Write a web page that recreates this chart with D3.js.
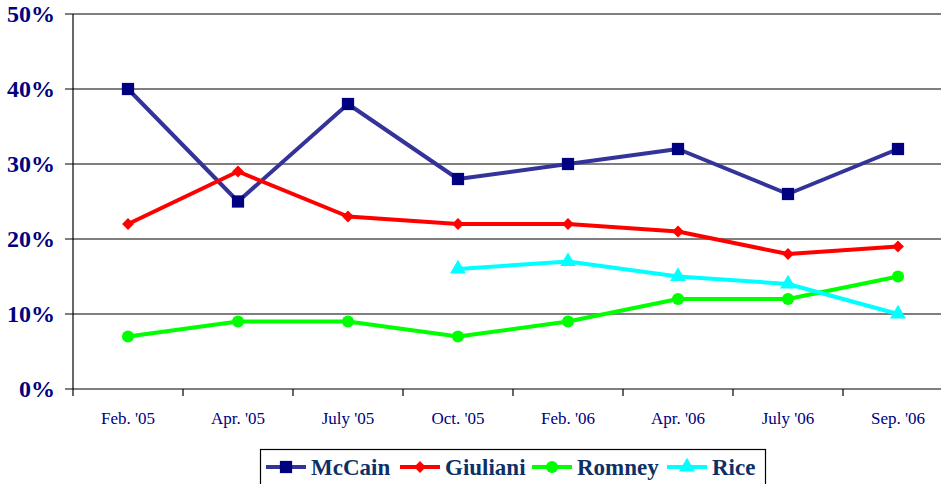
<!DOCTYPE html>
<html>
<head>
<meta charset="utf-8">
<script src="https://cdn.jsdelivr.net/npm/d3@7"></script>
</head>
<body style="margin:0; background:#fff">
<svg class="chart" width="941" height="484" style="display:block"></svg>
<script>
const months = ["Feb. '05", "Apr. '05", "July '05", "Oct. '05", "Feb. '06", "Apr. '06", "July '06", "Sep. '06"]
const yTicks = [0, 10, 20, 30, 40, 50]

const mccain = [40, 25, 38, 28, 30, 32, 26, 32]
const giuliani = [22, 29, 23, 22, 22, 21, 18, 19]
const romney = [7, 9, 9, 7, 9, 12, 12, 15]
const rice = [null, null, null, 16, 17, 15, 14, 10]

const series = [
  { name: "McCain", values: mccain, line: "#333399", mark: "#000080", shape: d3.symbolSquare, size: 150, rot: 0 },
  { name: "Giuliani", values: giuliani, line: "#ff0000", mark: "#ff0000", shape: d3.symbolSquare, size: 70, rot: 45 },
  { name: "Romney", values: romney, line: "#00ff00", mark: "#00ff00", shape: d3.symbolCircle, size: 115, rot: 0 },
  { name: "Rice", values: rice, line: "#00ffff", mark: "#00ffff", shape: d3.symbolTriangle, size: 110, rot: 0 }
]

const FONT = "Liberation Serif"

const svg = d3.select("svg.chart")

// plot area: left 73, band width 110
const x = d3.scaleBand().domain(months).range([73, 953])
const y = d3.scaleLinear().domain([0, 50]).range([389, 14])

// gridlines
svg.append("g")
  .selectAll("line")
  .data(yTicks)
  .enter()
  .append("line")
  .attr("x1", 65).attr("x2", 941)
  .attr("y1", d => y(d)).attr("y2", d => y(d))
  .attr("stroke", "#000").attr("stroke-width", 1.2)

// y axis line
svg.append("line")
  .attr("x1", 73).attr("x2", 73)
  .attr("y1", y(50)).attr("y2", y(0))
  .attr("stroke", "#000").attr("stroke-width", 1.2)

// y labels
svg.append("g")
  .selectAll("text")
  .data(yTicks)
  .enter()
  .append("text")
  .attr("x", 55)
  .attr("y", d => y(d) + 8)
  .attr("text-anchor", "end")
  .attr("fill", "#000080")
  .attr("font-family", FONT)
  .attr("font-size", 24)
  .attr("font-weight", "bold")
  .text(d => d + "%")

// x ticks at band boundaries
svg.append("g")
  .selectAll("line")
  .data(months)
  .enter()
  .append("line")
  .attr("x1", d => x(d)).attr("x2", d => x(d))
  .attr("y1", y(0)).attr("y2", y(0) + 7)
  .attr("stroke", "#000").attr("stroke-width", 1.2)

// x labels
svg.append("g")
  .selectAll("text")
  .data(months)
  .enter()
  .append("text")
  .attr("x", d => x(d) + x.bandwidth() / 2)
  .attr("y", 424)
  .attr("text-anchor", "middle")
  .attr("fill", "#000080")
  .attr("font-family", FONT)
  .attr("font-size", 17)
  .text(d => d)

const cx = i => x(months[i]) + x.bandwidth() / 2

const lineGen = d3.line()
  .defined(d => d != null)
  .x((d, i) => cx(i))
  .y(d => y(d))

series.forEach(s => {
  const g = svg.append("g")
  g.append("path")
    .attr("d", lineGen(s.values))
    .attr("fill", "none")
    .attr("stroke", s.line)
    .attr("stroke-width", 4)
    .attr("stroke-linejoin", "round")

  g.selectAll("path.pt")
    .data(s.values.map((v, i) => ({ v, i })).filter(d => d.v != null))
    .enter()
    .append("path")
    .attr("class", "pt")
    .attr("transform", d => `translate(${cx(d.i)},${y(d.v)}) rotate(${s.rot})`)
    .attr("d", d3.symbol().type(s.shape).size(s.size))
    .attr("fill", s.mark)
})

// legend
const legend = svg.append("g")
legend.append("rect")
  .attr("x", 260.5).attr("y", 449.5)
  .attr("width", 505).attr("height", 40)
  .attr("fill", "#fff").attr("stroke", "#000").attr("stroke-width", 1.2)

const legendX = [266, 400, 532, 667]
series.forEach((s, i) => {
  const lg = legend.append("g").attr("transform", `translate(${legendX[i]},467)`)
  lg.append("line")
    .attr("x1", 0).attr("x2", 40)
    .attr("stroke", s.line).attr("stroke-width", 4)
  lg.append("path")
    .attr("transform", `translate(20,0) rotate(${s.rot})`)
    .attr("d", d3.symbol().type(s.shape).size(s.size))
    .attr("fill", s.mark)
  lg.append("text")
    .attr("x", 45)
    .attr("y", 8)
    .attr("fill", "#0d3066")
    .attr("font-family", FONT)
    .attr("font-size", 23)
    .attr("font-weight", "bold")
    .text(s.name)
})
</script>
</body>
</html>
